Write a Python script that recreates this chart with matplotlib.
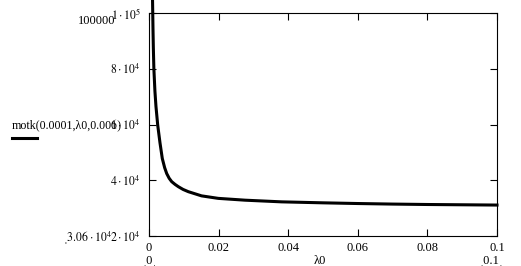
import matplotlib
matplotlib.use('Agg')
import matplotlib.pyplot as plt
from matplotlib.lines import Line2D

# values (lambda0 vs motk)
lam0 = [0.0010, 0.00115, 0.00125, 0.0014, 0.0017, 0.0020, 0.0025, 0.00316, 0.00382,
        0.0045, 0.00509, 0.0058, 0.00652, 0.0075, 0.00842, 0.0098, 0.0113, 0.0151,
        0.0199, 0.0276, 0.0381, 0.05, 0.06, 0.07, 0.08, 0.09, 0.1]
motk = [106000, 94000, 87400, 80000, 72000, 66500, 59800, 53400, 47800,
        44500, 42400, 40700, 39500, 38500, 37700, 36700, 35900, 34400,
        33500, 32850, 32250, 31900, 31650, 31450, 31300, 31200, 31100]

x_ticks = [0, 0.02, 0.04, 0.06, 0.08, 0.1]
x_labels = ['0', '0.02', '0.04', '0.06', '0.08', '0.1']
y_ticks = [20000, 40000, 60000, 80000, 100000]
y_labels = [r'$2\cdot10^4$', r'$4\cdot10^4$', r'$6\cdot10^4$', r'$8\cdot10^4$', r'$1\cdot10^5$']

plt.rcParams['font.family'] = ['Liberation Serif', 'DejaVu Serif']
plt.rcParams['mathtext.fontset'] = 'stix'
plt.rcParams['font.size'] = 9

fig = plt.figure(figsize=(5.21, 2.66), dpi=100)
ax = fig.add_axes([149/521, 1 - 236/266, 348/521, 223/266])

ax.plot(lam0, motk, color='black', lw=2.2, clip_on=False)

ax.set_xlim(0, 0.1)
ax.set_ylim(20000, 100000)
ax.set_xticks(x_ticks)
ax.set_xticklabels(x_labels)
ax.set_yticks(y_ticks)
ax.set_yticklabels(y_labels)
ax.tick_params(direction='in', length=5, width=0.8, top=True, right=True,
               labelsize=9, colors='black')
ax.tick_params(axis='y', pad=6, labelsize=8.5)
ax.tick_params(axis='x', pad=4)
for s in ax.spines.values():
    s.set_linewidth(0.8)

# axis limit labels, Mathcad style
fig.text(115/521, 1 - 21/266, '100000', ha='right', va='center')
fig.text(112/521, 1 - 238/266, r'$\mathregular{ˌ}3.06\cdot10^4$', ha='right', va='center', fontsize=8.5)
fig.text(149/521, 1 - 261/266, 'ˌ0ˌ', ha='center', va='center')
fig.text(491/521, 1 - 261/266, 'ˌ0.1ˌ', ha='center', va='center')
fig.text(320/521, 1 - 261/266, 'λ0', ha='center', va='center')

# y label with legend line
fig.text(12/521, 1 - 125/266, 'motk(0.0001,λ0,0.001)', ha='left', va='center', fontsize=8.6)
fig.add_artist(Line2D([12/521, 37/521], [1 - 138/266, 1 - 138/266], color='black', lw=2.2))

fig.savefig('out.png', dpi=100)
